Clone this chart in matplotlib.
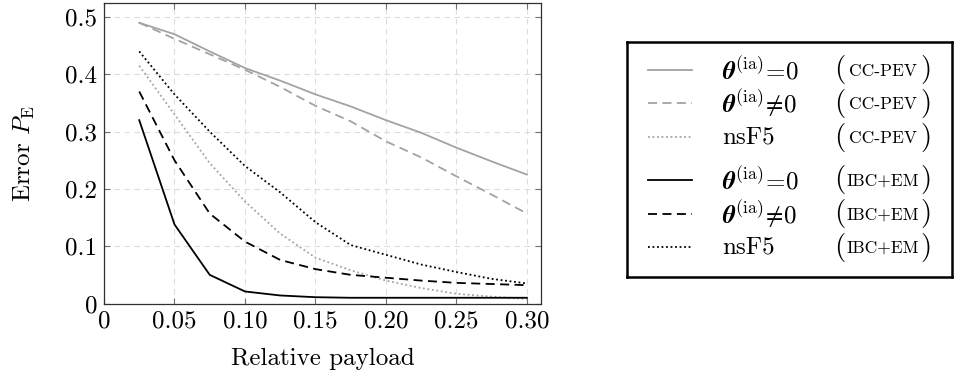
import matplotlib
matplotlib.use('Agg')
import matplotlib.pyplot as plt

# relative payload (x) and error P_E for each curve
payload = [0.025, 0.05, 0.075, 0.10, 0.125, 0.15, 0.175, 0.20, 0.225, 0.25, 0.275, 0.30]
cc_zero = [0.490, 0.470, 0.440, 0.411, 0.389, 0.365, 0.344, 0.320, 0.298, 0.272, 0.248, 0.225]
cc_nonzero = [0.490, 0.462, 0.435, 0.408, 0.378, 0.345, 0.318, 0.283, 0.255, 0.222, 0.190, 0.157]
cc_nsf5 = [0.415, 0.330, 0.245, 0.178, 0.122, 0.080, 0.058, 0.040, 0.027, 0.017, 0.012, 0.008]
ibc_zero = [0.320, 0.138, 0.050, 0.021, 0.014, 0.011, 0.010, 0.010, 0.010, 0.010, 0.010, 0.010]
ibc_nonzero = [0.370, 0.250, 0.157, 0.108, 0.076, 0.060, 0.050, 0.045, 0.040, 0.036, 0.034, 0.032]
ibc_nsf5 = [0.440, 0.365, 0.300, 0.240, 0.194, 0.142, 0.102, 0.085, 0.068, 0.055, 0.043, 0.035]

xticks = [0, 0.05, 0.10, 0.15, 0.20, 0.25, 0.30]
xticklabels = ['0', '0.05', '0.10', '0.15', '0.20', '0.25', '0.30']
yticks = [0, 0.1, 0.2, 0.3, 0.4, 0.5]
yticklabels = ['0', '0.1', '0.2', '0.3', '0.4', '0.5']

labels = [r'$\mathbfit{\theta}^{(\mathrm{ia})}\!=\!0$',
          r'$\mathbfit{\theta}^{(\mathrm{ia})}\!\neq\!0$',
          'nsF5']
groups = ['CC-PEV', 'IBC+EM']

plt.rcParams['font.family'] = 'serif'
plt.rcParams['font.serif'] = ['cmr10']
plt.rcParams['mathtext.fontset'] = 'cm'
plt.rcParams['axes.unicode_minus'] = False
plt.rcParams['axes.formatter.use_mathtext'] = True

FS = 18
GRAY = '#a3a3a3'
styles = [(GRAY, '-'), (GRAY, (0, (5, 3))), (GRAY, (0, (1, 1.5))),
          ('black', '-'), ('black', (0, (5, 3))), ('black', (0, (1, 1.5)))]
series = [cc_zero, cc_nonzero, cc_nsf5, ibc_zero, ibc_nonzero, ibc_nsf5]

fig = plt.figure(figsize=(9.57, 3.76), dpi=100)
ax = fig.add_axes([104/957, 1 - 303.5/376, 437/957, 300.5/376])

for s, (c, ls) in zip(series, styles):
    ax.plot(payload, s, color=c, linestyle=ls, lw=1.3)

ax.set_xlim(0, 0.31)
ax.set_ylim(0, 0.5245)
ax.set_xticks(xticks)
ax.set_xticklabels(xticklabels)
ax.set_yticks(yticks)
ax.set_yticklabels(yticklabels)
ax.tick_params(direction='in', length=4, width=0.8, color='#707070',
               top=True, right=True, labelsize=FS, pad=5)
ax.grid(True, color='#dcdcdc', linestyle=(0, (5, 4)), lw=0.8)
for sp in ax.spines.values():
    sp.set_color('#303030')
    sp.set_linewidth(0.9)
ax.set_xlabel('Relative payload', fontsize=FS, labelpad=11)
ax.set_ylabel(r'Error $P_\mathrm{E}$', fontsize=FS, labelpad=20)

# hand-made legend box
lg = fig.add_axes([627/957, 1 - 277/376, 325/957, 235/376])
lg.set_xlim(0, 325)
lg.set_ylim(235, 0)
lg.set_xticks([])
lg.set_yticks([])
for sp in lg.spines.values():
    sp.set_linewidth(1.8)
    sp.set_color('black')
rows = [28, 61, 95, 138, 172, 205]
for i, (r, (c, ls)) in enumerate(zip(rows, styles)):
    lg.plot([21, 65], [r, r], color=c, linestyle=ls, lw=1.3)
    lg.text(95, r, labels[i % 3], fontsize=FS, va='center', ha='left')
    lg.text(207, r, '(', fontsize=21, va='center', ha='left')
    lg.text(256, r + 1, groups[i // 3], fontsize=12.5, va='center', ha='center')
    lg.text(305, r, ')', fontsize=21, va='center', ha='right')

fig.savefig('out.png', dpi=100)
